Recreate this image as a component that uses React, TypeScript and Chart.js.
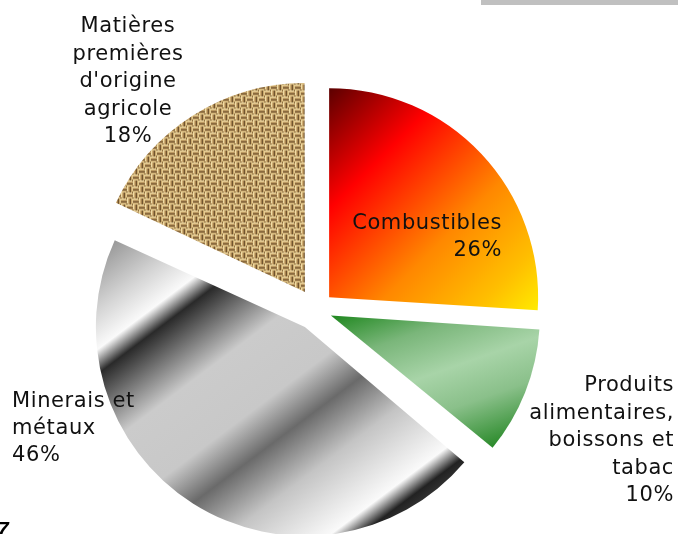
import React, { useEffect, useRef } from 'react';
import { Chart, registerables } from 'chart.js';

Chart.register(...registerables);

// ---- data ----
const categories = [
  'Combustibles',
  'Produits alimentaires, boissons et tabac',
  'Minerais et métaux',
  "Matières premières d'origine agricole",
];
const shares = [26, 10, 46, 18];
const labelNameLines = [
  ['Combustibles'],
  ['Produits', 'alimentaires,', 'boissons et', 'tabac'],
  ['Minerais et', 'métaux'],
  ['Matières', 'premières', "d'origine", 'agricole'],
];

// ---- styles / layout ----
const W = 678;
const H = 534;
const RADIUS = 209;
const EXPLODE = [72, 64, 83, 83];
const PADDING = { left: 0, right: 46, top: 85, bottom: 0 };
const FONT = '21px "DejaVu Sans"';
const LABEL_POS = [
  { x: 502, y: 228.5, align: 'right', step: 27.5 },
  { x: 674, y: 391, align: 'right', step: 27.5 },
  { x: 12, y: 407, align: 'left', step: 27.2 },
  { x: 128, y: 32, align: 'center', step: 27.6 },
];

type Stop = [number, string];
// gradient endpoints relative to pie centre (screen space)
const GRADS: { from: [number, number]; to: [number, number]; stops: Stop[] }[] = [
  {
    from: [13, -222.5],
    to: [231.5, -4],
    stops: [
      [0, '#5a0000'],
      [0.28, '#ff0000'],
      [0.61, '#ff8800'],
      [0.85, '#ffc000'],
      [1, '#ffee00'],
    ],
  },
  {
    from: [16, 5.5],
    to: [75, 173.5],
    stops: [
      [0, '#1e871e'],
      [0.25, '#7ab67a'],
      [0.5, '#a8d4a8'],
      [0.72, '#8ac08a'],
      [1, '#2a8a2a'],
    ],
  },
  {
    from: [-166, -109.5],
    to: [80, 218.5],
    stops: [
      [0, '#8a8a8a'],
      [0.134, '#d2d2d2'],
      [0.215, '#fafafa'],
      [0.263, '#2a2a2a'],
      [0.329, '#707070'],
      [0.415, '#cbcbcb'],
      [0.561, '#c8c8c8'],
      [0.654, '#6a6a6a'],
      [0.768, '#c4c4c4'],
      [0.917, '#fafafa'],
      [0.961, '#222222'],
      [1, '#3a3a3a'],
    ],
  },
];

const WEAVE = ['#f2e0aa', '#d2b077', '#a98650', '#6b4f2c', '#c9a66a', '#e6cf95'];

function makeBurlap(ctx: CanvasRenderingContext2D): CanvasPattern | string {
  const t = document.createElement('canvas');
  const S = 12;
  t.width = S;
  t.height = S;
  const g = t.getContext('2d');
  if (!g) return '#c2a068';
  for (let y = 0; y < S; y++) {
    for (let x = 0; x < S; x++) {
      const cell = (Math.floor(x / 6) + Math.floor(y / 6)) % 2;
      const l = cell === 0 ? y % 6 : x % 6;
      let col = WEAVE[l];
      // darken the cell borders across threads
      const across = cell === 0 ? x % 6 : y % 6;
      if (across === 5 && (l === 0 || l === 5)) col = '#8a6a3c';
      g.fillStyle = col;
      g.fillRect(x, y, 1, 1);
    }
  }
  return ctx.createPattern(t, 'repeat') || '#c2a068';
}

function sliceShift(i: number): [number, number] {
  const total = shares.reduce((a, b) => a + b, 0);
  let cum = 0;
  for (let k = 0; k < i; k++) cum += shares[k];
  const start = -Math.PI / 2 + (2 * Math.PI * cum) / total;
  const end = start + (2 * Math.PI * shares[i]) / total;
  const half = (start + end) / 2;
  const off = EXPLODE[i] / 4;
  return [Math.cos(half) * off, Math.sin(half) * off];
}

export default function App() {
  const ref = useRef<HTMLCanvasElement>(null);

  useEffect(() => {
    const canvas = ref.current;
    if (!canvas) return;
    const c2d = canvas.getContext('2d');
    if (!c2d) return;
    const burlap = makeBurlap(c2d);

    const cx = PADDING.left + (W - PADDING.left - PADDING.right) / 2;
    const cy = PADDING.top + (H - PADDING.top - PADDING.bottom) / 2;

    const fills: (CanvasGradient | CanvasPattern | string)[] = shares.map((_, i) => {
      if (i === 3) return burlap;
      const spec = GRADS[i];
      const [sx, sy] = sliceShift(i);
      const g = c2d.createLinearGradient(
        cx + spec.from[0] - sx,
        cy + spec.from[1] - sy,
        cx + spec.to[0] - sx,
        cy + spec.to[1] - sy
      );
      spec.stops.forEach(([o, col]) => g.addColorStop(o, col));
      return g;
    });

    const radiusFix = {
      id: 'radiusFix',
      afterDatasetUpdate(chart: any, args: any) {
        const meta = chart.getDatasetMeta(args.index);
        meta.data.forEach((arc: any, i: number) => {
          const off = EXPLODE[i] / 4;
          const fix = 1 - Math.sin(Math.min(Math.PI, arc.circumference || 0));
          arc.outerRadius = RADIUS - off * fix;
        });
      },
    };

    const decor = {
      id: 'decor',
      beforeDraw(chart: any) {
        const ctx = chart.ctx;
        ctx.save();
        ctx.fillStyle = '#ffffff';
        ctx.fillRect(0, 0, W, H);
        ctx.fillStyle = '#c0c0c0';
        ctx.fillRect(481, 0, W - 481, 5);
        ctx.restore();
      },
      afterDraw(chart: any) {
        const ctx = chart.ctx;
        ctx.save();
        ctx.font = FONT;
        (ctx as any).letterSpacing = '0.6px';
        ctx.fillStyle = '#111111';
        ctx.textBaseline = 'alphabetic';
        labelNameLines.forEach((lines, i) => {
          const p = LABEL_POS[i];
          const all = [...lines, `${shares[i]}%`];
          ctx.textAlign = p.align;
          all.forEach((ln, j) => {
            ctx.fillText(ln, p.x, p.y + j * p.step);
          });
        });
        (ctx as any).letterSpacing = '0px';
        ctx.font = 'italic bold 21px "Liberation Sans"';
        ctx.textAlign = 'left';
        ctx.fillStyle = '#000000';
        ctx.fillText('7', -3, 536);
        ctx.restore();
      },
    };

    const chart = new Chart(canvas, {
      type: 'pie',
      data: {
        labels: categories,
        datasets: [
          {
            data: shares,
            backgroundColor: fills as any,
            borderWidth: 0,
            offset: EXPLODE,
            radius: RADIUS,
          } as any,
        ],
      },
      options: {
        responsive: false,
        devicePixelRatio: 1,
        animation: false,
        events: [],
        layout: { padding: PADDING },
        plugins: {
          legend: { display: false },
          tooltip: { enabled: false },
        },
      },
      plugins: [radiusFix, decor],
    });

    return () => chart.destroy();
  }, []);

  return (
    <div style={{ position: 'fixed', left: 0, top: 0, width: W, height: H, background: '#fff' }}>
      <canvas ref={ref} width={W} height={H} style={{ display: 'block', width: W, height: H }} />
    </div>
  );
}
